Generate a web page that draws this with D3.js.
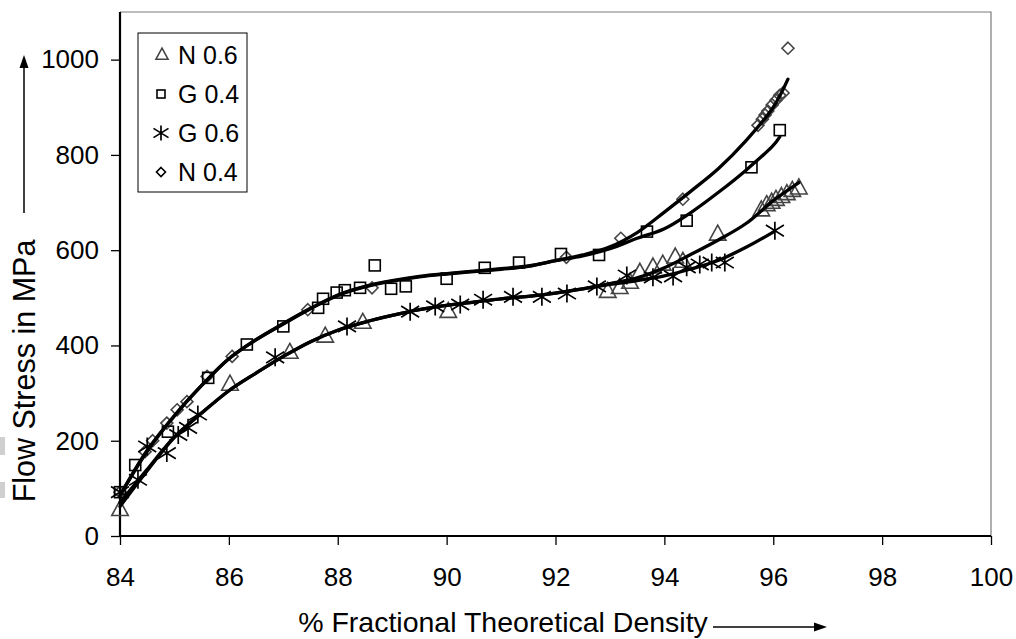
<!DOCTYPE html>
<html><head><meta charset="utf-8">
<script src="https://cdn.jsdelivr.net/npm/d3@7"></script>
<style>
html,body{margin:0;padding:0;background:#fff;}
text{font-family:"Liberation Sans",Arial,sans-serif;fill:#000;}
</style></head>
<body><svg id="c" width="1016" height="639"></svg>
<script>
// ---------- data ----------
const xTicks = [84, 86, 88, 90, 92, 94, 96, 98, 100];
const yTicks = [0, 200, 400, 600, 800, 1000];
const seriesNames = ["N 0.6", "G 0.4", "G 0.6", "N 0.4"];

// scatter points (x = % fractional theoretical density, y = flow stress MPa)
const n06X = [84.0, 86.02, 87.12, 87.77, 88.46, 90.03, 92.96, 93.18, 93.37, 93.55, 93.79, 93.97, 94.2, 94.34, 94.98, 95.78, 95.88, 95.97, 96.05, 96.15, 96.25, 96.35, 96.47];
const n06Y = [55, 318, 385, 419, 448, 471, 513, 521, 532, 553, 564, 570, 585, 576, 633, 684, 695, 700, 706, 712, 718, 725, 730];
const g04X = [84.0, 84.28, 84.88, 85.62, 86.33, 87.0, 87.64, 87.73, 87.98, 88.13, 88.41, 88.68, 88.98, 89.25, 90.0, 90.7, 91.33, 92.1, 92.8, 93.68, 94.41, 95.6, 96.12];
const g04Y = [92, 149, 219, 332, 402, 440, 479, 498, 511, 516, 521, 568, 519, 524, 540, 563, 574, 592, 590, 639, 662, 774, 852];
const g06X = [84.0, 84.33, 84.5, 84.86, 85.07, 85.25, 85.43, 86.85, 88.17, 89.33, 89.79, 90.25, 90.67, 91.22, 91.75, 92.21, 92.76, 93.31, 93.79, 94.16, 94.41, 94.65, 94.87, 95.11, 96.03];
const g06Y = [92, 118, 188, 174, 212, 227, 255, 375, 440, 471, 482, 486, 496, 502, 502, 509, 524, 547, 543, 545, 564, 570, 574, 574, 641];
const n04X = [84.0, 84.46, 84.6, 84.86, 85.05, 85.23, 85.6, 86.06, 87.45, 88.63, 92.2, 93.2, 94.34, 95.72, 95.8, 95.85, 95.9, 95.98, 96.05, 96.12, 96.18, 96.27];
const n04Y = [92, 177, 200, 237, 265, 282, 335, 377, 475, 521, 585, 625, 707, 862, 875, 884, 892, 905, 915, 925, 930, 1024];

// trend lines
const n06TX = [84, 84.5, 85, 85.5, 86, 86.5, 87, 87.5, 88, 88.5, 89, 89.5, 90, 90.5, 91, 91.5, 92, 92.5, 93, 93.5, 94, 94.5, 95, 95.5, 96, 96.47];
const n06TY = [62, 137, 207, 258, 305, 342, 377, 408, 432, 449, 463, 475, 484, 491, 498, 503, 510, 519, 530, 542, 563, 592, 622, 656, 704, 742];
const g06TX = [84, 84.5, 85, 85.5, 86, 86.5, 87, 87.5, 88, 88.5, 89, 89.5, 90, 90.5, 91, 91.5, 92, 92.5, 93, 93.5, 94, 94.5, 95, 95.5, 96];
const g06TY = [70, 140, 208, 258, 305, 342, 377, 408, 432, 449, 463, 475, 484, 491, 498, 503, 510, 519, 528, 536, 546, 561, 579, 606, 638];
const n04TX = [84, 84.5, 85, 85.5, 86, 86.5, 87, 87.5, 88, 88.5, 89, 89.5, 90, 90.5, 91, 91.5, 92, 92.5, 93, 93.5, 94, 94.5, 95, 95.5, 96, 96.27];
const n04TY = [85, 180, 253, 316, 372, 412, 445, 477, 505, 523, 535, 544, 550, 555, 560, 566, 578, 590, 607, 637, 680, 725, 772, 830, 900, 959];
const g04TX = [84, 84.5, 85, 85.5, 86, 86.5, 87, 87.5, 88, 88.5, 89, 89.5, 90, 90.5, 91, 91.5, 92, 92.5, 93, 93.5, 94, 94.5, 95, 95.5, 96, 96.12];
const g04TY = [85, 178, 252, 316, 372, 412, 446, 478, 506, 524, 536, 545, 551, 556, 561, 567, 578, 588, 603, 625, 645, 680, 722, 768, 820, 838];

// ---------- layout ----------
const svg = d3.select("#c");
const L = 120, R = 991, T = 12, B = 536;
const x = d3.scaleLinear().domain([84, 100]).range([L, R]);
const y = d3.scaleLinear().domain([0, 1100]).range([B, T]);
const FS = 25, TFS = 26;

// small gray artifacts at the left edge
svg.append("rect").attr("x", 0).attr("y", 437).attr("width", 5).attr("height", 18).attr("fill", "#cfcfcf");
svg.append("rect").attr("x", 0).attr("y", 482).attr("width", 5).attr("height", 16).attr("fill", "#cfcfcf");

// frame (top/right)
svg.append("path").attr("d", `M${L},${T}H${R}V${B}`).attr("fill", "none").attr("stroke", "#7a7a7a").attr("stroke-width", 1.2);

// axes
const gx = svg.append("g").attr("transform", `translate(0,${B})`)
  .call(d3.axisBottom(x).tickValues(xTicks).tickSize(9).tickPadding(23).tickFormat(d3.format("d")));
const gy = svg.append("g").attr("transform", `translate(${L},0)`)
  .call(d3.axisLeft(y).tickValues(yTicks).tickSize(9).tickPadding(12).tickFormat(d3.format("d")));
[gx, gy].forEach(g => {
  g.select(".domain").attr("stroke", "#000").attr("stroke-width", 2.2);
  g.selectAll(".tick line").attr("stroke", "#000").attr("stroke-width", 1.3);
  g.selectAll(".tick text").attr("font-size", TFS).attr("font-family", "Liberation Sans, Arial, sans-serif").attr("fill", "#000");
});
gx.select(".domain").attr("d", `M${L},0H${R}`);
gy.select(".domain").attr("d", `M0,${B}V${T}`);

// titles
svg.append("text").attr("x", 503).attr("y", 632).attr("text-anchor", "middle").attr("font-size", 28.5)
  .text("% Fractional Theoretical Density");
svg.append("line").attr("x1", 713).attr("x2", 816).attr("y1", 627).attr("y2", 627).attr("stroke", "#000").attr("stroke-width", 1.5);
svg.append("path").attr("d", "M827,627 L814,622.5 L814,631.5 Z").attr("fill", "#000");

svg.append("text").attr("transform", "translate(35,371) rotate(-90)").attr("text-anchor", "middle").attr("font-size", 30.5)
  .text("Flow Stress in MPa");
svg.append("line").attr("x1", 24).attr("x2", 24).attr("y1", 213).attr("y2", 66).attr("stroke", "#000").attr("stroke-width", 1.5);
svg.append("path").attr("d", "M24,55 L19.5,68 L28.5,68 Z").attr("fill", "#000");

// ---------- lines ----------
const line = d3.line().x(d => x(d[0])).y(d => y(d[1])).curve(d3.curveCatmullRom.alpha(0.5));
const trends = [[n06TX, n06TY], [g06TX, g06TY], [g04TX, g04TY], [n04TX, n04TY]];

// ---------- markers ----------
function triangle(g, cx, cy, s, col) {
  g.append("path").attr("d", `M${cx},${cy - s * 0.62}L${cx + s * 0.55},${cy + s * 0.38}L${cx - s * 0.55},${cy + s * 0.38}Z`)
    .attr("fill", "none").attr("stroke", col).attr("stroke-width", 1.6);
}
function square(g, cx, cy, s, col) {
  g.append("rect").attr("x", cx - s / 2).attr("y", cy - s / 2).attr("width", s).attr("height", s)
    .attr("fill", "none").attr("stroke", col).attr("stroke-width", 1.6);
}
function diamond(g, cx, cy, s, col) {
  const h = s / 2;
  g.append("path").attr("d", `M${cx},${cy - h}L${cx + h},${cy}L${cx},${cy + h}L${cx - h},${cy}Z`)
    .attr("fill", "none").attr("stroke", col).attr("stroke-width", 1.6);
}
function star(g, cx, cy, s, col) {
  const h = s / 2, w = s * 0.5;
  g.append("path").attr("d", `M${cx},${cy - h}V${cy + h}M${cx - w},${cy - h * 0.62}L${cx + w},${cy + h * 0.62}M${cx - w},${cy + h * 0.62}L${cx + w},${cy - h * 0.62}`)
    .attr("fill", "none").attr("stroke", col).attr("stroke-width", 1.7);
}

const pts = svg.append("g");
n06X.forEach((v, i) => triangle(pts, x(v), y(n06Y[i]), 15, "#444"));
n04X.forEach((v, i) => diamond(pts, x(v), y(n04Y[i]), 12, "#444"));
g04X.forEach((v, i) => square(pts, x(v), y(g04Y[i]), 11, "#000"));
g06X.forEach((v, i) => star(pts, x(v), y(g06Y[i]), 18, "#000"));

const plot = svg.append("g");
trends.forEach(t => {
  plot.append("path").datum(t[0].map((v, i) => [v, t[1][i]])).attr("d", line)
    .attr("fill", "none").attr("stroke", "#000").attr("stroke-width", 3.3).attr("stroke-linejoin", "round").attr("stroke-linecap", "round");
});

// ---------- legend ----------
const lg = svg.append("g");
lg.append("rect").attr("x", 138).attr("y", 33).attr("width", 109).attr("height", 159).attr("fill", "#fff").attr("stroke", "#000").attr("stroke-width", 1);
const rowY = [55, 94, 133, 172];
triangle(lg, 162, rowY[0], 11, "#444");
square(lg, 161, rowY[1], 8, "#000");
star(lg, 161, rowY[2], 15, "#000");
diamond(lg, 161, rowY[3], 9, "#000");
seriesNames.forEach((n, i) => {
  lg.append("text").attr("x", 178).attr("y", rowY[i] + 9).attr("font-size", FS).text(n);
});
</script></body></html>
